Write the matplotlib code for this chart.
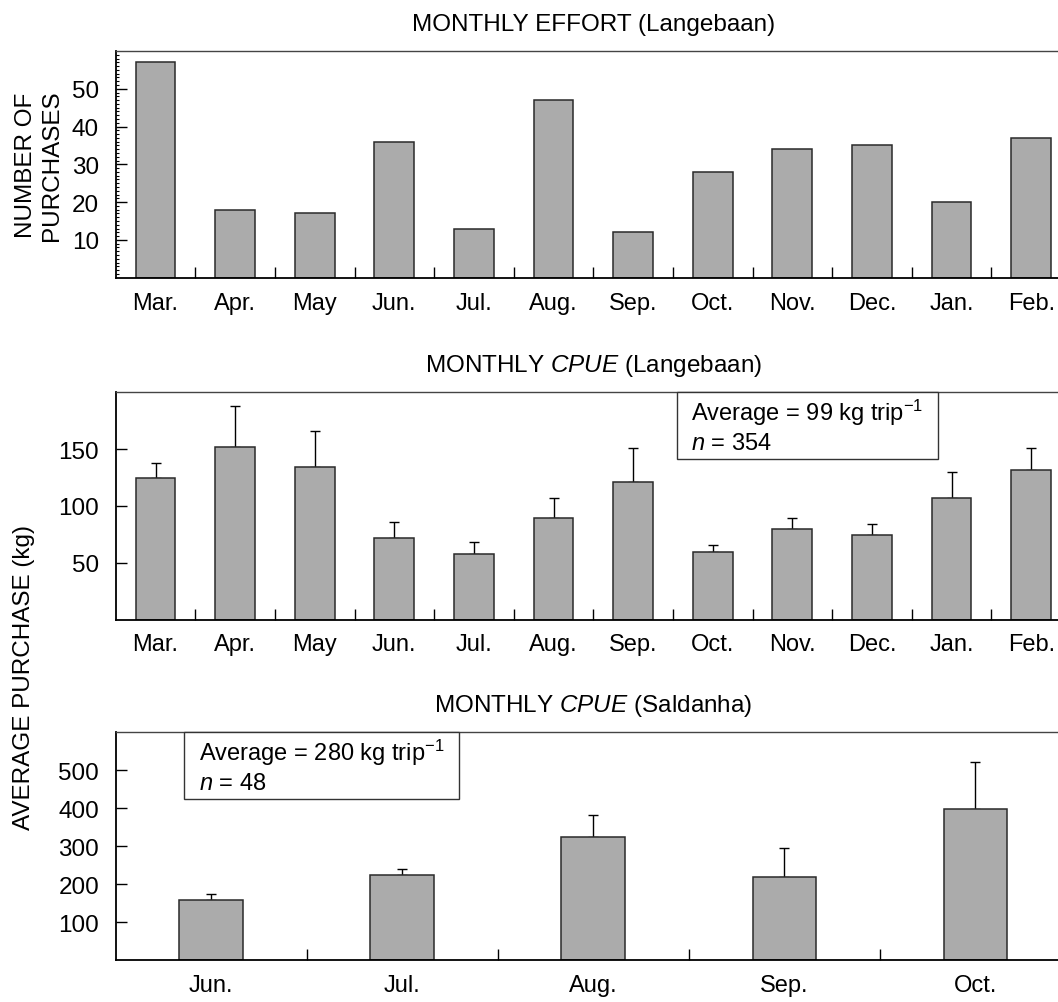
import matplotlib
matplotlib.use("Agg")
import matplotlib.pyplot as plt
import numpy as np
from matplotlib.patches import Rectangle

plt.rcParams['font.family'] = ['Liberation Sans', 'DejaVu Sans']
plt.rcParams['mathtext.fontset'] = 'custom'
plt.rcParams['mathtext.rm'] = 'Liberation Sans'
plt.rcParams['mathtext.it'] = 'Liberation Sans:italic'

# data
months_lang = ["Mar.", "Apr.", "May", "Jun.", "Jul.", "Aug.", "Sep.",
               "Oct.", "Nov.", "Dec.", "Jan.", "Feb."]
effort_lang = [57, 18, 17, 36, 13, 47, 12, 28, 34, 35, 20, 37]
cpue_lang = [125, 152, 134, 72, 58, 89, 121, 59, 80, 74, 107, 132]
cpue_lang_upper = [138, 188, 166, 86, 68, 107, 151, 66, 89, 84, 130, 151]

months_sald = ["Jun.", "Jul.", "Aug.", "Sep.", "Oct."]
cpue_sald = [157, 225, 324, 218, 398]
cpue_sald_upper = [175, 241, 383, 295, 521]

W, H = 1058, 1003
fig = plt.figure(figsize=(W / 100, H / 100), dpi=100)

LEFT = 115.7
FULL_RIGHT = 1071.0   # axis runs past the right edge of the picture
FS = 17.5      # titles, y ticks, axis labels
FS_X = 17      # month labels
FS_BOX = 17


def add_axes(top, bottom):
    return fig.add_axes([LEFT / W, 1 - bottom / H, (W - LEFT) / W, (bottom - top) / H])


def draw_panel(ax, labels, values, upper, ymax, yticks, width, title):
    n = len(labels)
    x = np.arange(n)
    values = np.array(values, dtype=float)
    ax.bar(x, values, width, color='#ababab', edgecolor='#2a2a2a',
           linewidth=1.1, zorder=2)
    if upper is not None:
        err = np.array(upper, dtype=float) - values
        ax.errorbar(x, values, yerr=[np.zeros(n), err], fmt='none',
                    ecolor='black', elinewidth=1.0, capsize=3.5,
                    capthick=1.0, zorder=1)
    ax.set_xlim(-0.5, -0.5 + n * (W - LEFT) / (FULL_RIGHT - LEFT))
    ax.set_ylim(0, ymax)

    ax.set_xticks(x)
    ax.set_xticklabels(labels)
    ax.set_xticks(np.arange(n - 1) + 0.5, minor=True)
    ax.tick_params(axis='x', which='major', length=0, pad=10, labelsize=FS_X)
    ax.tick_params(axis='x', which='minor', direction='in', length=8, width=1)

    ax.set_yticks(yticks)
    ax.tick_params(axis='y', which='major', direction='in', length=8,
                   width=1, pad=12, labelsize=FS)

    ax.spines['right'].set_visible(False)
    ax.spines['top'].set_color('#444444')
    ax.spines['top'].set_linewidth(1.0)
    ax.spines['left'].set_linewidth(1.3)
    ax.spines['bottom'].set_linewidth(1.3)

    ax.annotate(title, xy=((n - 1) / 2, 1), xycoords=('data', 'axes fraction'),
                xytext=(0, 15), textcoords='offset points',
                ha='center', va='baseline', fontsize=FS, annotation_clip=False)


def add_box(ax, x0, x1, y0, line1, line2, tx):
    ax.add_patch(Rectangle((x0, y0), x1 - x0, 1 - y0, transform=ax.transAxes,
                           facecolor='white', edgecolor='#333333',
                           linewidth=1.0, zorder=3, clip_on=False))
    ax.text(tx, 0.877, line1, transform=ax.transAxes, fontsize=FS_BOX,
            ha='left', va='baseline', zorder=4)
    ax.text(tx, 0.749, line2, transform=ax.transAxes, fontsize=FS_BOX,
            ha='left', va='baseline', zorder=4)


# panel 1: effort
ax1 = add_axes(52, 278.7)
draw_panel(ax1, months_lang, effort_lang, None, 60, [10, 20, 30, 40, 50],
           0.5, "MONTHLY EFFORT (Langebaan)")
ax1.set_yticks(np.arange(1, 60), minor=True)
ax1.tick_params(axis='y', which='minor', direction='in', length=1.8, width=0.8)

# panel 2: cpue Langebaan
ax2 = add_axes(393.3, 620.5)
draw_panel(ax2, months_lang, cpue_lang, cpue_lang_upper, 200, [50, 100, 150],
           0.5, "MONTHLY $CPUE$ (Langebaan)")
add_box(ax2, 0.5955, 0.8722, 0.708,
        "Average = 99 kg trip$^{-1}$", "$n$ = 354", 0.611)

# panel 3: cpue Saldanha
ax3 = add_axes(733.3, 961.0)
draw_panel(ax3, months_sald, cpue_sald, cpue_sald_upper, 600,
           [100, 200, 300, 400, 500], 0.334, "MONTHLY $CPUE$ (Saldanha)")
add_box(ax3, 0.0727, 0.364, 0.707,
        "Average = 280 kg trip$^{-1}$", "$n$ = 48", 0.0884)

fig.text(39 / W, 1 - 165.3 / H, "NUMBER OF\nPURCHASES", rotation=90,
         ha='center', va='center', fontsize=FS, linespacing=1.2)
fig.text(24 / W, 1 - 677 / H, "AVERAGE PURCHASE (kg)", rotation=90,
         ha='center', va='center', fontsize=FS)

fig.savefig("out.png", dpi=100)
